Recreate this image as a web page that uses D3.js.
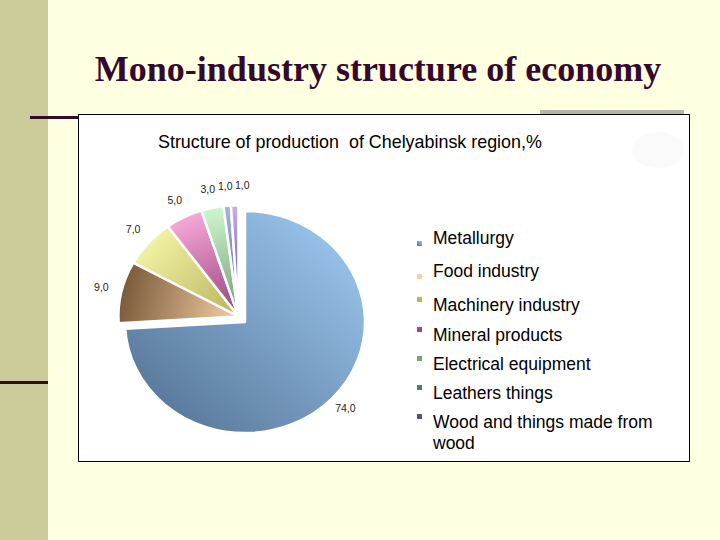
<!DOCTYPE html>
<html>
<head>
<meta charset="utf-8">
<script src="https://cdn.jsdelivr.net/npm/d3@7"></script>
<style>
  body { margin: 0; background: #ffffe1; }
  svg { display: block; }
</style>
</head>
<body>
<script>
// Datos del gráfico
const categories = ["Metallurgy", "Food industry", "Machinery industry", "Mineral products",
                    "Electrical equipment", "Leathers things", "Wood and things made from wood"];
const values = [74, 9, 7, 5, 3, 1, 1];
// colores [claro, oscuro] de cada sector
const lightColors = ["#a2cef7", "#f6d0a6", "#f2f2a4", "#f6a8d8", "#cff7cf", "#a8b4d8", "#c8b0f4"];
const darkColors  = ["#4f6d8e", "#7a5a3a", "#b8b25c", "#98407a", "#6e9c6e", "#5a6490", "#5a3a8a"];

const width = 720, height = 540;

const svg = d3.select("body").append("svg")
    .attr("width", width)
    .attr("height", height);

// decoración de la diapositiva
svg.append("rect").attr("x", 0).attr("y", 0).attr("width", 48).attr("height", height).attr("fill", "#cccc9a");
svg.append("rect").attr("x", 0).attr("y", 381).attr("width", 48).attr("height", 3).attr("fill", "#330a2a");
svg.append("rect").attr("x", 30).attr("y", 116).attr("width", 50).attr("height", 3).attr("fill", "#330a2a");
svg.append("rect").attr("x", 540).attr("y", 110).attr("width", 144).attr("height", 4).attr("fill", "#b4b4a8");

svg.append("text")
    .attr("x", 378).attr("y", 81)
    .attr("text-anchor", "middle")
    .style("font-family", "'Liberation Serif', 'Times New Roman', serif")
    .style("font-weight", "bold")
    .style("font-size", "36px")
    .attr("fill", "#35082e")
    .text("Mono-industry structure of economy");

// caja del gráfico
svg.append("rect")
    .attr("x", 78.5).attr("y", 114.5).attr("width", 611).attr("height", 347)
    .attr("fill", "#ffffff").attr("stroke", "#000").attr("stroke-width", 1);

svg.append("ellipse").attr("cx", 658).attr("cy", 150).attr("rx", 26).attr("ry", 18).attr("fill", "#fafafa");

svg.append("text")
    .attr("x", 158).attr("y", 148)
    .style("font-family", "'Liberation Sans', Arial, sans-serif")
    .style("font-size", "17.9px")
    .style("white-space", "pre")
    .attr("fill", "#000")
    .text("Structure of production  of Chelyabinsk region,%");

// tarta
const cx = 245, cy = 322, radius = 120, squash = 0.925;
const data = categories.map((c, i) => ({ name: c, value: values[i], i: i }));
const pie = d3.pie().sort(null).value(d => d.value);
const arcs = pie(data);
const arc = d3.arc().innerRadius(0).outerRadius(radius);

// el grupo de sectores pequeños se separa junto en la dirección de su bisectriz
const restStart = arcs[1].startAngle, restEnd = arcs[arcs.length - 1].endAngle;
const restMid = (restStart + restEnd) / 2;
const explode = 9;
const off = [Math.sin(restMid) * explode, -Math.cos(restMid) * explode];

const defs = svg.append("defs");
arcs.forEach((a, i) => {
    const g = defs.append("linearGradient").attr("id", "grad" + i);
    if (i === 0) {
        g.attr("x1", 1).attr("y1", 0).attr("x2", 0).attr("y2", 1);
        g.append("stop").attr("offset", "0%").attr("stop-color", lightColors[i]);
        g.append("stop").attr("offset", "100%").attr("stop-color", darkColors[i]);
    } else {
        const m = (a.startAngle + a.endAngle) / 2;
        g.attr("gradientUnits", "userSpaceOnUse")
            .attr("x1", Math.sin(m) * radius).attr("y1", -Math.cos(m) * radius)
            .attr("x2", 0).attr("y2", 0);
        // los alimentos tienen el lado exterior oscuro
        const outer = i === 1 ? darkColors[i] : lightColors[i];
        const inner = i === 1 ? lightColors[i] : darkColors[i];
        g.append("stop").attr("offset", "0%").attr("stop-color", outer);
        g.append("stop").attr("offset", "100%").attr("stop-color", inner);
    }
});

const pieG = svg.append("g")
    .attr("transform", `translate(${cx},${cy}) scale(1,${squash})`);

pieG.selectAll("path.slice")
    .data(arcs)
    .enter().append("path")
    .attr("class", "slice")
    .attr("d", arc)
    .attr("transform", (d, i) => i === 0 ? null : `translate(${off[0]},${off[1]})`)
    .attr("fill", (d, i) => `url(#grad${i})`)
    .attr("stroke", "#fff")
    .attr("stroke-width", 2.5)
    .attr("stroke-linejoin", "round");

// etiquetas de valores
const fmt = v => d3.format(".1f")(v).replace(".", ",");
const labelR = radius * 1.17;
let labelPos = arcs.map((a, i) => {
    const m = (a.startAngle + a.endAngle) / 2;
    const o = i === 0 ? [0, 0] : off;
    return {
        x: cx + o[0] + Math.sin(m) * labelR,
        y: cy + (o[1] - Math.cos(m) * labelR) * squash,
        text: fmt(a.data.value)
    };
});
// evitamos que se solapen las últimas etiquetas
for (let i = 2; i < labelPos.length; i++) {
    if (labelPos[i].x - labelPos[i - 1].x < 17) labelPos[i].x = labelPos[i - 1].x + 17;
}
labelPos[0].x -= 2;
labelPos[0].y -= 2;

svg.selectAll("text.lbl")
    .data(labelPos)
    .enter().append("text")
    .attr("class", "lbl")
    .attr("x", d => d.x).attr("y", d => d.y + 3)
    .attr("text-anchor", "middle")
    .style("font-family", "'Liberation Sans', Arial, sans-serif")
    .style("font-size", "10.5px")
    .attr("fill", "#222")
    .text(d => d.text);

// leyenda
const legendY = [244, 277, 311, 341, 370, 399, 428];
const legend = svg.selectAll("g.leg")
    .data(data)
    .enter().append("g")
    .attr("class", "leg")
    .attr("transform", (d, i) => `translate(417,${legendY[i]})`);

legend.append("rect")
    .attr("x", 0).attr("y", (d, i) => i < 2 ? -3 : -14)
    .attr("width", 5).attr("height", 5)
    .attr("fill", (d, i) => `url(#grad${i})`);

legend.append("text")
    .attr("x", 16).attr("y", 0)
    .style("font-family", "'Liberation Sans', Arial, sans-serif")
    .style("font-size", "17.5px")
    .attr("fill", "#000")
    .each(function(d) {
        const t = d3.select(this);
        if (d.name.length > 28) {
            const cut = d.name.lastIndexOf(" ");
            t.append("tspan").attr("x", 16).text(d.name.slice(0, cut));
            t.append("tspan").attr("x", 16).attr("dy", 21).text(d.name.slice(cut + 1));
        } else {
            t.text(d.name);
        }
    });
</script>
</body>
</html>
